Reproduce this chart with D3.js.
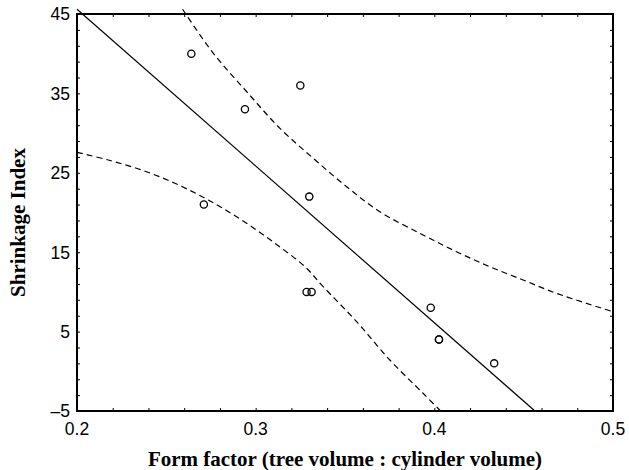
<!DOCTYPE html>
<html lang="en">
<head>
<meta charset="UTF-8">
<title>Shrinkage Index vs Form factor</title>
<script src="https://d3js.org/d3.v7.min.js"></script>
<style>
    body { margin: 0; background: #fff; }
    .tick-label { font-family: "Liberation Sans", Arial, sans-serif; font-size: 17.5px; fill: #000; }
    .axis-title { font-family: "Liberation Serif", "Times New Roman", serif; font-size: 21px; font-weight: bold; fill: #000; }
    .frame { fill: none; stroke: #000; stroke-width: 2px; }
    .fit { fill: none; stroke: #000; stroke-width: 1.2px; }
    .band { fill: none; stroke: #000; stroke-width: 1.2px; stroke-dasharray: 6,4; }
    .pt { fill: none; stroke: #000; stroke-width: 1.3px; }
</style>
</head>
<body>
<div id="chart"></div>
<script>
// observed points
var formFactor = [0.264, 0.294, 0.325, 0.271, 0.330, 0.3285, 0.3313, 0.398, 0.4026, 0.4026, 0.4335];
var shrinkage  = [40, 33, 36, 21, 22, 10, 10, 8, 4, 4, 1];

// fitted line
var fitX = [0.2, 0.4563];
var fitY = [45.6, -5];

// dashed bands
var upperX = [0.2591, 0.2763, 0.2950, 0.3136, 0.3322, 0.3509, 0.3695, 0.3937, 0.4124, 0.4310, 0.4497, 0.4684, 0.5];
var upperY = [45.6, 40.05, 35.21, 30.6, 26.83, 23.25, 20.1, 17.17, 15.06, 13.17, 11.5, 9.82, 7.5];
var lowerX = [0.2, 0.2175, 0.2362, 0.2548, 0.2735, 0.2921, 0.3108, 0.3276, 0.3378, 0.3565, 0.3751, 0.3937, 0.4035];
var lowerY = [27.58, 26.61, 25.35, 23.68, 21.57, 19.06, 16.12, 13.17, 10.66, 6.25, 1.42, -2.77, -5];

var xTicks = [0.2, 0.3, 0.4, 0.5];
var yTicks = [-5, 5, 15, 25, 35, 45];

var W = 629, H = 470;
var margin = { left: 77, top: 14, right: 16, bottom: 59 };
var width = W - margin.left - margin.right,
    height = H - margin.top - margin.bottom;

var x = d3.scaleLinear().domain([0.2, 0.5]).range([0, width]);
var y = d3.scaleLinear().domain([-5, 45]).range([height, 0]);

var svg = d3.select("#chart").append("svg")
    .attr("width", W).attr("height", H);
var g = svg.append("g")
    .attr("transform", "translate(" + margin.left + "," + margin.top + ")");

// minor tick positions
var xMinor = d3.range(0, 16).map(function (i) { return +(0.2 + i * 0.02).toFixed(2); });
var yMinor = d3.range(0, 26).map(function (i) { return -5 + i * 2; });

function tickAxis(axis, sel) {
    sel.call(axis);
    sel.select(".domain").remove();
    sel.selectAll("text").remove();
    sel.selectAll("line").attr("stroke", "#000").attr("stroke-width", 1);
}

// inward ticks on all four sides
g.append("g").attr("transform", "translate(0," + height + ")")
    .call(function (s) { tickAxis(d3.axisBottom(x).tickValues(xMinor).tickSize(-3), s); });
g.append("g")
    .call(function (s) { tickAxis(d3.axisTop(x).tickValues(xMinor).tickSize(-3), s); });
g.append("g")
    .call(function (s) { tickAxis(d3.axisLeft(y).tickValues(yMinor).tickSize(-3), s); });
g.append("g").attr("transform", "translate(" + width + ",0)")
    .call(function (s) { tickAxis(d3.axisRight(y).tickValues(yMinor).tickSize(-3), s); });

// tick labels
g.selectAll(".xlab").data(xTicks).enter().append("text")
    .attr("class", "tick-label")
    .attr("x", function (d) { return x(d); })
    .attr("y", height + 24)
    .attr("text-anchor", "middle")
    .text(function (d) { return d3.format(".1f")(d); });

g.selectAll(".ylab").data(yTicks).enter().append("text")
    .attr("class", "tick-label")
    .attr("x", -7)
    .attr("y", function (d) { return y(d); })
    .attr("dy", "0.36em")
    .attr("text-anchor", "end")
    .text(function (d) { return d < 0 ? "\u2013" + Math.abs(d) : d; });

// curves
var line = d3.line()
    .x(function (d) { return x(d[0]); })
    .y(function (d) { return y(d[1]); });
var smooth = d3.line()
    .x(function (d) { return x(d[0]); })
    .y(function (d) { return y(d[1]); })
    .curve(d3.curveCatmullRom);

g.append("path").attr("class", "fit")
    .attr("d", line(d3.zip(fitX, fitY)));
g.append("path").attr("class", "band")
    .attr("d", smooth(d3.zip(upperX, upperY)));
g.append("path").attr("class", "band")
    .attr("d", smooth(d3.zip(lowerX, lowerY)));

// points
g.selectAll(".pt").data(d3.zip(formFactor, shrinkage)).enter().append("circle")
    .attr("class", "pt")
    .attr("cx", function (d) { return x(d[0]); })
    .attr("cy", function (d) { return y(d[1]); })
    .attr("r", 3.6);

// frame
g.append("rect").attr("class", "frame")
    .attr("x", 0).attr("y", 0)
    .attr("width", width).attr("height", height);

// axis titles
g.append("text").attr("class", "axis-title")
    .attr("x", width / 2)
    .attr("y", height + 55)
    .attr("text-anchor", "middle")
    .text("Form factor (tree volume : cylinder volume)");

g.append("text").attr("class", "axis-title")
    .attr("transform", "translate(" + (-52) + "," + (height / 2 + 10) + ") rotate(-90)")
    .attr("text-anchor", "middle")
    .text("Shrinkage Index");
</script>
</body>
</html>
